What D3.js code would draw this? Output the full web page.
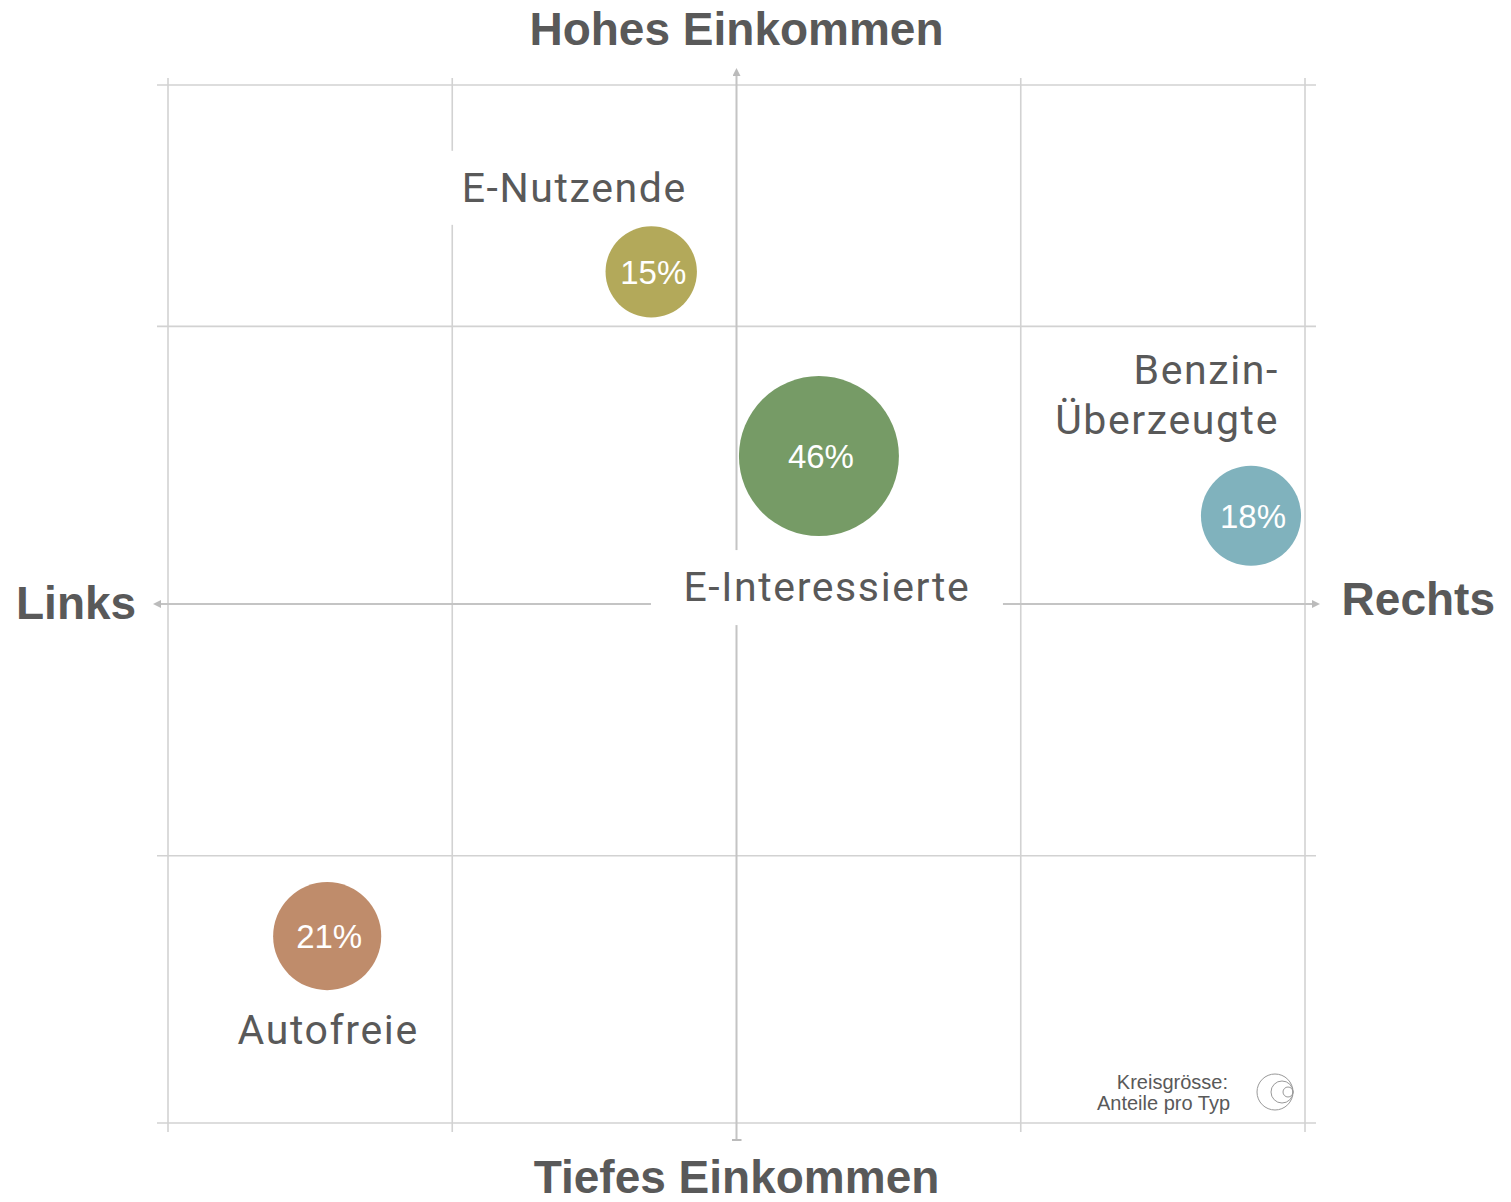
<!DOCTYPE html>
<html>
<head>
<meta charset="utf-8">
<script src="https://cdn.jsdelivr.net/npm/d3@7"></script>
<style>
  body { margin: 0; background: #fff; }
  svg { display: block; }
</style>
</head>
<body>
<div id="chart"></div>
<script>
// data
var types = ["E-Nutzende", "E-Interessierte", "Benzin-Überzeugte", "Autofreie"];
var shares = [15, 46, 18, 21];
var income = [1.28, 0.57, 0.34, -1.28];     // y: hoch (+) / tief (-)
var politics = [-0.30, 0.29, 1.81, -1.44];  // x: links (-) / rechts (+)
var colors = ["#b3a95a", "#769b66", "#80b2bd", "#bf8c6b"];
var xTicks = [-2, -1, 0, 1, 2];
var yTicks = [2, 1.07, 0, -0.97, -2];

var width = 1511, height = 1202;
var grey = "#595959";

var x = d3.scaleLinear().domain([-2, 2]).range([168, 1305]);
var y = d3.scaleLinear().domain([-2, 2]).range([1123, 85]);
var r = d3.scaleSqrt().domain([0, 46]).range([0, 80]);

var svg = d3.select("#chart").append("svg")
    .attr("width", width)
    .attr("height", height);

var defs = svg.append("defs");
defs.append("marker")
    .attr("id", "arrow")
    .attr("viewBox", "0 0 10 10")
    .attr("refX", 5).attr("refY", 5)
    .attr("markerWidth", 4).attr("markerHeight", 4)
    .attr("orient", "auto-start-reverse")
    .attr("markerUnits", "strokeWidth")
    .append("path")
    .attr("d", "M0,0 L10,5 L0,10 z")
    .attr("fill", "#bbb");
defs.append("marker")
    .attr("id", "bar")
    .attr("viewBox", "0 0 10 10")
    .attr("refX", 5).attr("refY", 5)
    .attr("markerWidth", 5).attr("markerHeight", 5)
    .attr("orient", "auto")
    .attr("markerUnits", "strokeWidth")
    .append("path")
    .attr("d", "M4,0 L6,0 L6,10 L4,10 z")
    .attr("fill", "#bbb");

// grid
var grid = svg.append("g");
grid.selectAll(".vx")
    .data(xTicks.filter(function(d) { return d !== 0; }))
    .enter().append("line")
    .attr("x1", function(d) { return x(d); })
    .attr("x2", function(d) { return x(d); })
    .attr("y1", y(2) - 7)
    .attr("y2", y(-2) + 9)
    .attr("stroke", "#d2d2d2")
    .attr("stroke-width", 1.6);
grid.selectAll(".hy")
    .data(yTicks.filter(function(d) { return d !== 0; }))
    .enter().append("line")
    .attr("y1", function(d) { return y(d); })
    .attr("y2", function(d) { return y(d); })
    .attr("x1", x(-2) - 11)
    .attr("x2", x(2) + 11)
    .attr("stroke", "#d2d2d2")
    .attr("stroke-width", 1.6);

// main axes
svg.append("line")
    .attr("x1", x(0)).attr("x2", x(0))
    .attr("y1", y(-2) + 17).attr("y2", y(2) - 13)
    .attr("stroke", "#c4c4c4")
    .attr("stroke-width", 2)
    .attr("marker-start", "url(#bar)")
    .attr("marker-end", "url(#arrow)");
svg.append("line")
    .attr("x1", x(-2) - 11).attr("x2", x(2) + 11)
    .attr("y1", y(0)).attr("y2", y(0))
    .attr("stroke", "#c4c4c4")
    .attr("stroke-width", 2)
    .attr("marker-start", "url(#arrow)")
    .attr("marker-end", "url(#arrow)");

// axis titles
var titles = svg.append("g")
    .attr("font-family", "Liberation Sans, Arial, sans-serif")
    .attr("font-weight", "bold")
    .attr("font-size", 46)
    .attr("fill", grey);
titles.append("text").attr("x", x(0)).attr("y", 45)
    .attr("text-anchor", "middle").text("Hohes Einkommen");
titles.append("text").attr("x", x(0)).attr("y", 1193)
    .attr("text-anchor", "middle").text("Tiefes Einkommen");
titles.append("text").attr("x", 16).attr("y", 619)
    .attr("text-anchor", "start").text("Links");
titles.append("text").attr("x", 1495).attr("y", 615)
    .attr("text-anchor", "end").text("Rechts");

// category labels (layout offsets relative to the circle centre)
var labelLayout = [
    {dx: -77, dy: -70, anchor: "middle", box: [-212, -121, 256, 74]},
    {dx: 8, dy: 145, anchor: "middle", box: [-168, 94, 352, 75]},
    {dx: 28, dy: -132, anchor: "end", box: null},
    {dx: 1, dy: 108, anchor: "middle", box: null}
];

var nodes = types.map(function(t, i) {
    return {name: t, share: shares[i], cx: x(politics[i]), cy: y(income[i]),
            color: colors[i], lay: labelLayout[i]};
});

var labels = svg.append("g");
nodes.forEach(function(d) {
    if (d.lay.box) {
        labels.append("rect")
            .attr("x", d.cx + d.lay.box[0])
            .attr("y", d.cy + d.lay.box[1])
            .attr("width", d.lay.box[2])
            .attr("height", d.lay.box[3])
            .attr("fill", "#fff");
    }
    var t = labels.append("text")
        .attr("x", d.cx + d.lay.dx)
        .attr("y", d.cy + d.lay.dy)
        .attr("text-anchor", d.lay.anchor)
        .attr("font-family", "Roboto, Liberation Sans, sans-serif")
        .attr("font-size", 41)
        .attr("letter-spacing", 1.6)
        .attr("fill", grey);
    if (d.name === "Benzin-Überzeugte") {
        t.append("tspan").attr("x", d.cx + d.lay.dx).text("Benzin-");
        t.append("tspan").attr("x", d.cx + d.lay.dx).attr("dy", 50).text("Überzeugte");
    } else {
        t.text(d.name);
    }
});

// bubbles
var node = svg.selectAll(".node")
    .data(nodes)
    .enter().append("g")
    .attr("class", "node")
    .attr("transform", function(d) { return "translate(" + d.cx + "," + d.cy + ")"; });

node.append("circle")
    .attr("r", function(d) { return r(d.share); })
    .attr("fill", function(d) { return d.color; });

node.append("text")
    .attr("dy", "0.36em")
    .attr("x", 2)
    .attr("text-anchor", "middle")
    .attr("font-family", "Liberation Sans, Arial, sans-serif")
    .attr("font-size", 33)
    .attr("fill", "#fff")
    .text(function(d) { return d.share + "%"; });

// size legend
var leg = svg.append("g")
    .attr("font-family", "Liberation Sans, Arial, sans-serif")
    .attr("font-size", 20)
    .attr("fill", grey)
    .attr("text-anchor", "end");
leg.append("text").attr("x", 1228).attr("y", 1089).text("Kreisgrösse:");
leg.append("text").attr("x", 1230).attr("y", 1110).text("Anteile pro Typ");
[18, 11, 5].forEach(function(rr) {
    svg.append("circle")
        .attr("cx", 1293 - rr)
        .attr("cy", 1092)
        .attr("r", rr)
        .attr("fill", "none")
        .attr("stroke", "#999")
        .attr("stroke-width", 1);
});
</script>
</body>
</html>
